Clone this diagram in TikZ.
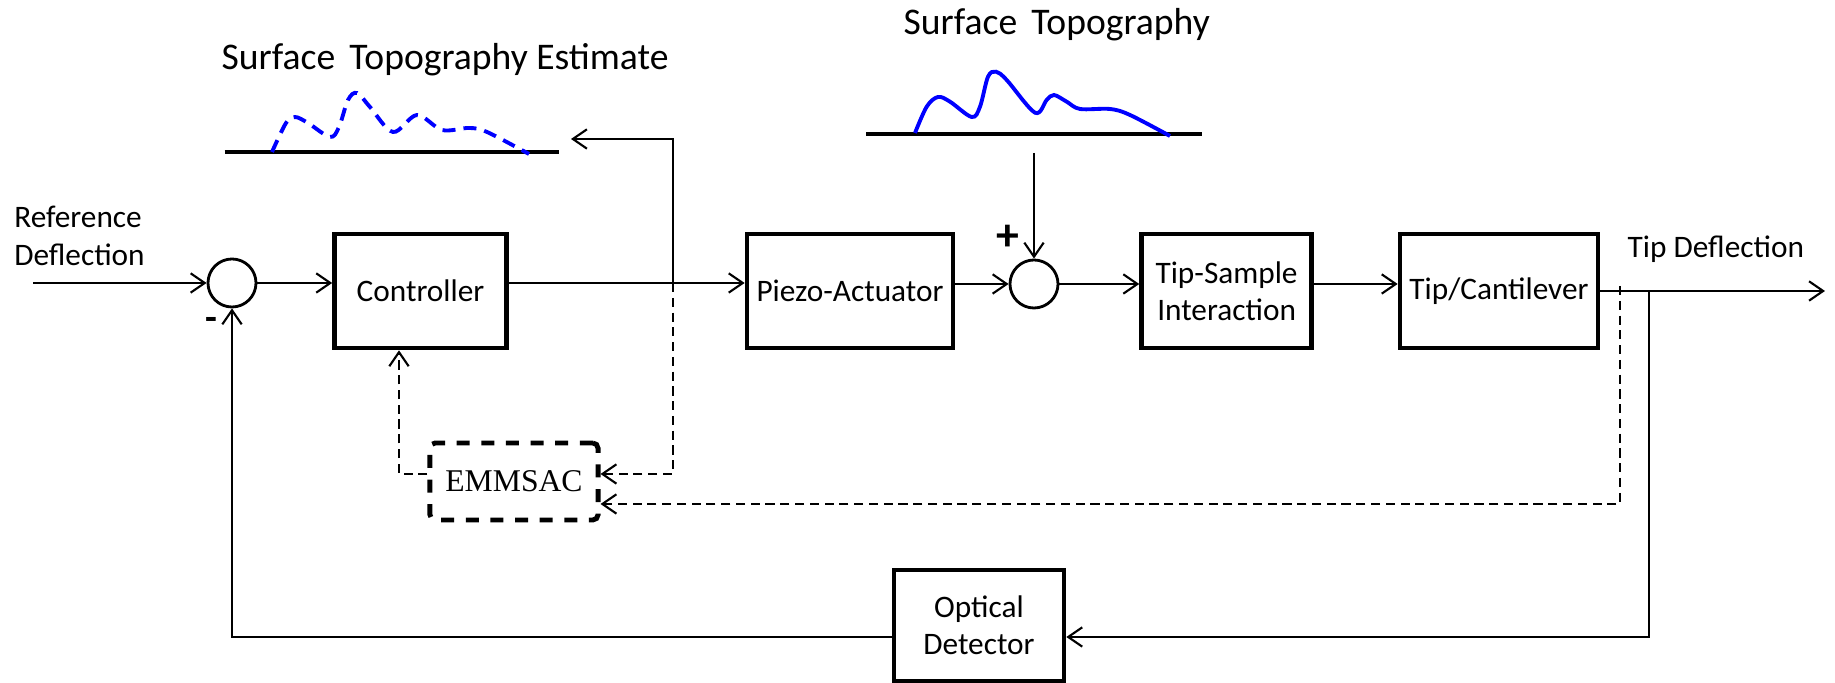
\documentclass[tikz,border=0pt]{standalone}
\usepackage{fontspec}
\setmainfont{Carlito}
\newfontfamily\serifemm{Liberation Serif}
\usetikzlibrary{arrows.meta,calc}
\begin{document}
\begin{tikzpicture}[x=0.01cm,y=-0.01cm,
  blk/.style={draw, line width=1.3pt, inner sep=0pt, align=center, font=\fontsize{8.9}{10.6}\selectfont},
  emmbox/.style={draw, line width=1.4pt, dash pattern=on 3.7pt off 3.3pt, rounded corners=1.5pt, inner sep=0pt, font=\serifemm\fontsize{9}{10}\selectfont},
  sumc/.style={draw, circle, line width=0.8pt, minimum size=0.48cm, inner sep=0pt},
  conn/.style={line width=0.6pt, -{Straight Barb[length=4pt,width=5.5pt]}},
  dconn/.style={conn, dash pattern=on 2.6pt off 1.6pt},
  lbl/.style={inner sep=0pt, font=\fontsize{8.9}{10.8}\selectfont},
  ttl/.style={inner sep=0pt, font=\fontsize{10.7}{12}\selectfont},
  base/.style={line width=0.95pt},
  topo/.style={blue, line width=1.1pt}
]
\useasboundingbox (0,0) rectangle (1835,683);

% blocks
\node[blk, minimum width=1.72cm, minimum height=1.14cm] (ctrl) at (420.5,291) {Controller};
\node[blk, minimum width=2.06cm, minimum height=1.14cm] (pz) at (850,291) {Piezo-Actuator};
\node[blk, minimum width=1.70cm, minimum height=1.14cm] (ts) at (1226.6,291) {Tip-Sample\\Interaction};
\node[blk, minimum width=1.98cm, minimum height=1.14cm] (tc) at (1499,291) {Tip/Cantilever};
\node[blk, minimum width=1.70cm, minimum height=1.11cm] (od) at (979,625.5) {Optical\\Detector};
\node[emmbox, minimum width=1.68cm, minimum height=0.77cm] (emm) at (514,481.5) {EMMSAC};

% summing junctions
\node[sumc] (s1) at (232,283) {};
\node[sumc] (s2) at (1034,284) {};
\node[inner sep=0pt, font=\fontsize{11}{11}\selectfont\bfseries] (minus) at (211,324) {-};
\node[inner sep=0pt, font=\fontsize{13}{13}\selectfont\bfseries] (plus) at (1008,238) {+};

% labels
\node[lbl, anchor=west, align=left] (refl) at (13.6,236) {Reference\\Deflection};
\node[lbl, anchor=base west] (tipd) at (1627,258) {Tip Deflection};
\node[ttl, anchor=base west] (t1) at (221,70) {Surface\hspace{0.15em} Topography Estimate};
\node[ttl, anchor=base west] (t2) at (903,35) {Surface\hspace{0.15em} Topography};

% surface sketches
\draw[base] (224.5,152) -- (559,152);
\draw[topo, dash pattern=on 3.7pt off 2.3pt] plot[smooth, tension=0.55] coordinates {(272,152) (286,123) (295,117) (308,123) (330,137) (339,127) (348,100) (357,93) (370,107) (393,132) (417,115) (442,130) (469,128) (487,132) (529,154)};
\draw[base] (866,134) -- (1201.5,134);
\draw[topo] plot[smooth, tension=0.55] coordinates {(915,133) (926.7,106.7) (938,97) (950,101.7) (971.7,117) (980,106.7) (988,76.7) (996,71.7) (1006.7,80) (1035,112.7) (1046.7,100) (1054,95) (1066.7,101.7) (1080,109) (1110,109) (1130,115) (1170,136)};

% coordinates
\coordinate (in) at (33,283);
\coordinate (out) at (1825,291);
\coordinate (jA) at (673,283);
\coordinate (estin) at (571,139);
\coordinate (topoin) at (1034,153);
\coordinate (jB) at (1620,286);
\coordinate (jC) at (1649,291);
\coordinate (emmU) at ($(emm.east)+(0,-7.5)$);
\coordinate (emmL) at ($(emm.east)+(0,22.5)$);
\coordinate (emmW) at ($(emm.west)+(0,-7.5)$);
\coordinate (ctrlB) at ($(ctrl.south)+(-21.5,0)$);
\coordinate (odE) at ($(od.east)+(0,11.5)$);
\coordinate (odW) at ($(od.west)+(0,11.5)$);

% forward path
\draw[conn] (in) -- (s1.west);
\draw[conn] (s1.east) -- (s1.east -| ctrl.west);
\draw[conn] (ctrl.east |- s1) -- (pz.west |- s1);
\draw[conn] (pz.east |- s2) -- (s2.west);
\draw[conn] (s2.east) -- (s2.east -| ts.west);
\draw[conn] (ts.east |- s2) -- (tc.west |- s2);
\draw[conn] (tc.east) -- (out);
\draw[conn] (topoin) -- (s2.north);

% estimate branch
\draw[conn] (jA) -- (jA |- estin) -- (estin);
\draw[dconn] (jA) -- (jA |- emmU) -- (emmU);
\draw[dconn] (emmW) -- (emmW -| ctrlB) -- (ctrlB);
\draw[dconn] (jB) -- (jB |- emmL) -- (emmL);

% feedback
\draw[conn] (jC) -- (jC |- odE) -- (odE);
\draw[conn] (odW) -- (odW -| s1) -- (s1.south);
\end{tikzpicture}
\end{document}
